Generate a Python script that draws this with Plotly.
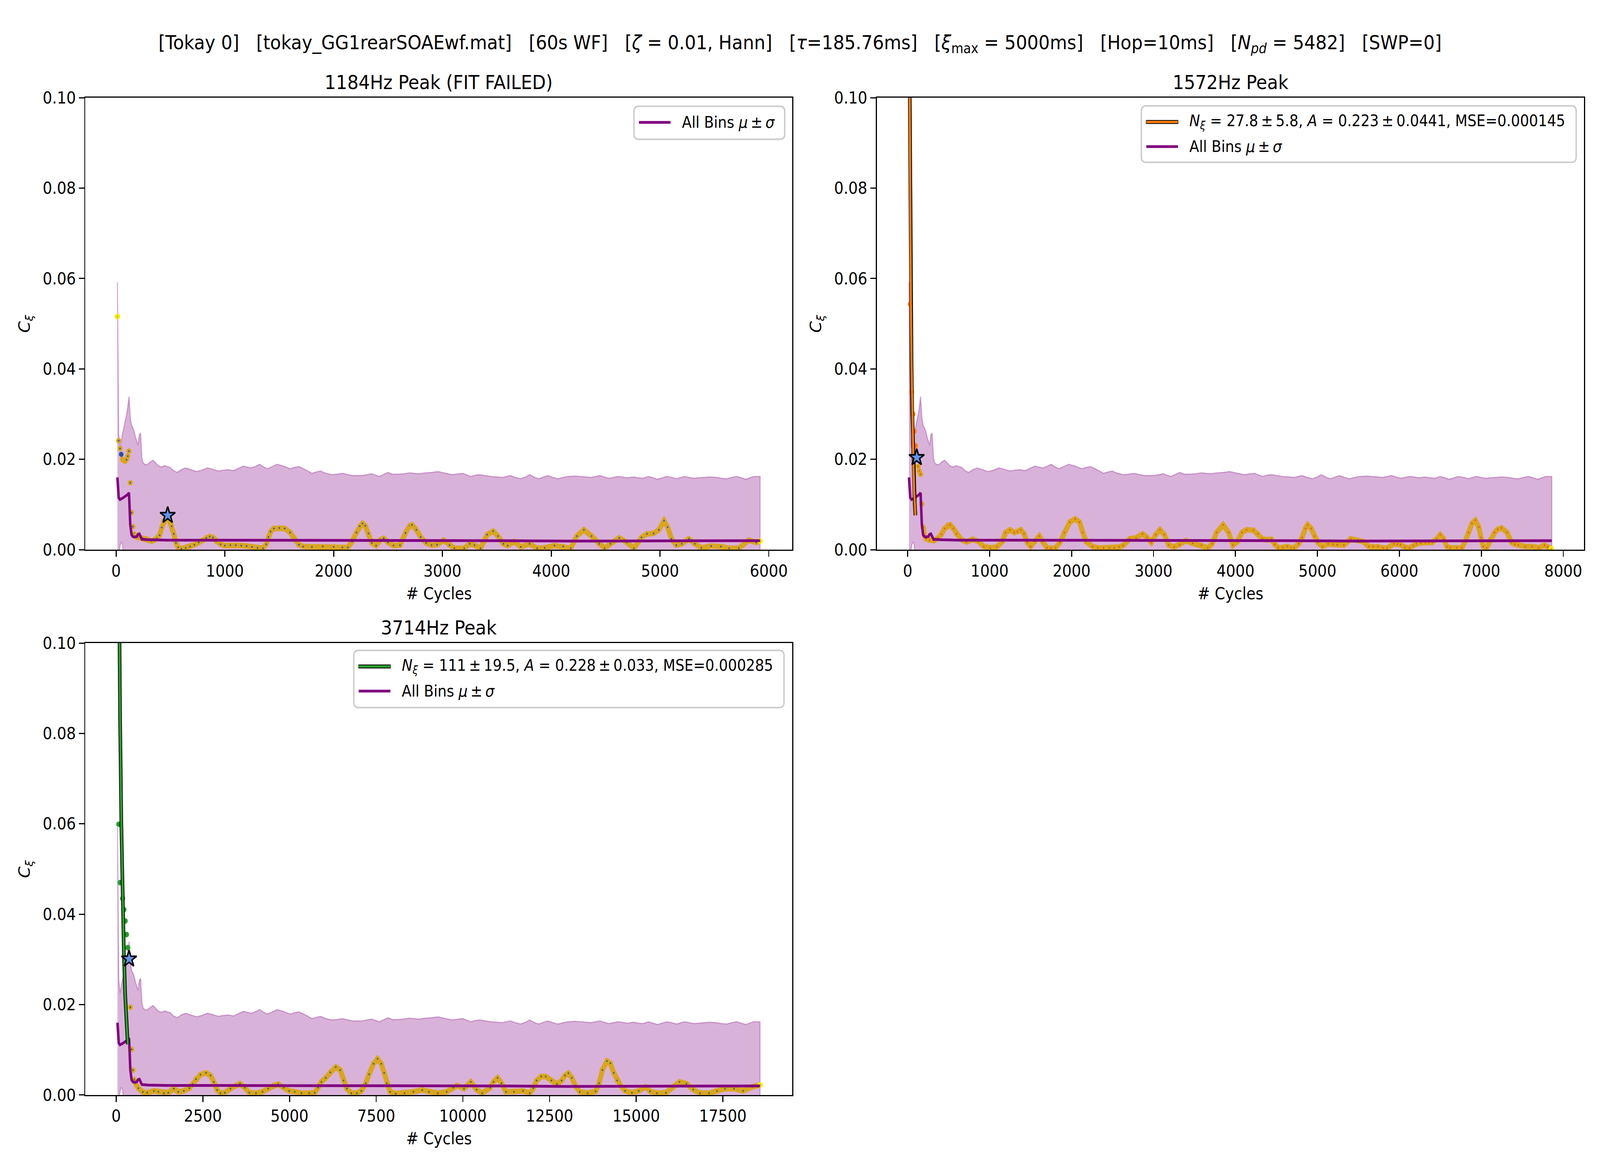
import plotly.graph_objects as go

# ---------------- metadata ----------------
PEAK_FREQS_HZ = [1184, 1572, 3714]
PANEL_TITLES = ["1184Hz Peak (FIT FAILED)", "1572Hz Peak", "3714Hz Peak"]
SUPTITLE = ("[Tokay 0]\u00a0\u00a0\u00a0[tokay_GG1rearSOAEwf.mat]\u00a0\u00a0\u00a0[60s WF]\u00a0\u00a0\u00a0"
            "[<i>ζ</i> = 0.01, Hann]\u00a0\u00a0\u00a0[<i>τ</i>=185.76ms]\u00a0\u00a0\u00a0"
            "[<i>ξ</i><sub>max</sub> = 5000ms]\u00a0\u00a0\u00a0[Hop=10ms]\u00a0\u00a0\u00a0"
            "[<i>N</i><sub><i>pd</i></sub> = 5482]\u00a0\u00a0\u00a0[SWP=0]")
FIT_LABELS = [None,
              "<i>N</i><sub><i>ξ</i></sub> = 27.8\u2009±\u20095.8, <i>A</i> = 0.223\u2009±\u20090.0441, MSE=0.000145",
              "<i>N</i><sub><i>ξ</i></sub> = 111\u2009±\u200919.5, <i>A</i> = 0.228\u2009±\u20090.033, MSE=0.000285"]
ALLBINS_LABEL = "All Bins <i>μ</i>\u2009±\u2009<i>σ</i>"
X_TICKS = [[0, 1000, 2000, 3000, 4000, 5000, 6000],
           [0, 1000, 2000, 3000, 4000, 5000, 6000, 7000, 8000],
           [0, 2500, 5000, 7500, 10000, 12500, 15000, 17500]]
Y_TICKS = [0.0, 0.02, 0.04, 0.06, 0.08, 0.10]
Y_TICKTEXT = ["0.00", "0.02", "0.04", "0.06", "0.08", "0.10"]

# ---------------- all-bins mean ± sigma (vs xi in ms) ----------------
allbins_hi_xi = [10, 20, 30, 40, 50, 60, 70, 80, 90, 100, 110, 120, 130, 140, 150, 160, 170, 180, 190, 200,
                 210, 225, 245, 265, 287, 310, 330, 354, 375, 397, 420, 445, 473, 505, 540, 580, 625, 665,
                 709, 750, 794, 830, 870, 912, 950, 988, 1047, 1080, 1115, 1145, 1174, 1210, 1250, 1300,
                 1351, 1385, 1419, 1470, 1520, 1555, 1587, 1630, 1672, 1715, 1756, 1800, 1841, 1908, 1950,
                 1984, 2043, 2075, 2111, 2145, 2179, 2230, 2280, 2347, 2398, 2450, 2499, 2560, 2613, 2660,
                 2692, 2753, 2790, 2824, 2870, 2912, 2960, 2999, 3061, 3100, 3140, 3180, 3211, 3250, 3281,
                 3320, 3351, 3390, 3430, 3470, 3509, 3560, 3615, 3650, 3685, 3720, 3756, 3790, 3826, 3860,
                 3896, 3930, 3967, 4020, 4055, 4090, 4134, 4170, 4204, 4240, 4274, 4315, 4354, 4385, 4415,
                 4450, 4486, 4520, 4556, 4610, 4662, 4700, 4740, 4780, 4820, 4855, 4890, 4920, 4952, 5000]
allbins_hi = [0.0592, 0.0255, 0.0226, 0.0240, 0.0257, 0.0270, 0.0282, 0.0297, 0.0315, 0.0339, 0.0292,
              0.0275, 0.0270, 0.0262, 0.0250, 0.0240, 0.0231, 0.0254, 0.0258, 0.0203, 0.0192, 0.0188,
              0.0189, 0.0194, 0.0198, 0.0191, 0.0185, 0.0183, 0.0186, 0.0184, 0.0182, 0.0175, 0.0171,
              0.0177, 0.0181, 0.0177, 0.0173, 0.0176, 0.0181, 0.0178, 0.0174, 0.0176, 0.0177, 0.0175,
              0.0180, 0.0185, 0.0181, 0.0184, 0.0189, 0.0183, 0.0179, 0.0184, 0.0189, 0.0185, 0.0179,
              0.0182, 0.0184, 0.0177, 0.0169, 0.0172, 0.0174, 0.0169, 0.0166, 0.0167, 0.0169, 0.0166,
              0.0164, 0.0164, 0.0166, 0.0168, 0.0162, 0.0166, 0.0171, 0.0167, 0.0167, 0.0168, 0.0170,
              0.0168, 0.0170, 0.0171, 0.0173, 0.0169, 0.0166, 0.0168, 0.0169, 0.0162, 0.0165, 0.0166,
              0.0164, 0.0162, 0.0161, 0.0160, 0.0164, 0.0160, 0.0157, 0.0161, 0.0166, 0.0160, 0.0157,
              0.0161, 0.0164, 0.0160, 0.0157, 0.0160, 0.0162, 0.0163, 0.0162, 0.0161, 0.0160, 0.0162,
              0.0164, 0.0161, 0.0158, 0.0160, 0.0162, 0.0161, 0.0159, 0.0161, 0.0159, 0.0158, 0.0162,
              0.0159, 0.0156, 0.0159, 0.0162, 0.0160, 0.0157, 0.0160, 0.0162, 0.0160, 0.0158, 0.0159,
              0.0160, 0.0161, 0.0160, 0.0158, 0.0157, 0.0160, 0.0162, 0.0159, 0.0156, 0.0159, 0.0162,
              0.0162]
allbins_lo_xi = [10, 20, 30, 40, 50, 60, 70, 100, 150, 200, 500, 1000, 2000, 3000, 4000, 5000]
allbins_lo = [-0.027, -0.002, 0.0008, 0.0017, 0.0012, -0.003, -0.006, -0.009, -0.017, -0.014,
              -0.013, -0.013, -0.013, -0.012, -0.012, -0.012]
allbins_mean_xi = [10, 20, 30, 40, 50, 60, 70, 80, 90, 100, 110, 120, 130, 140, 150, 160, 170, 180, 190,
                   200, 250, 400, 800, 1200, 1600, 2000, 2500, 3000, 3500, 4000, 4500, 5000]
allbins_mean = [0.0160, 0.0115, 0.0111, 0.0112, 0.0114, 0.0116, 0.0118, 0.0120, 0.0122, 0.0126, 0.0055,
                0.0033, 0.0029, 0.0028, 0.0028, 0.0029, 0.0034, 0.0035, 0.0029, 0.0023, 0.0022, 0.0021,
                0.0021, 0.0021, 0.0020, 0.0020, 0.0020, 0.0020, 0.0019, 0.0019, 0.0019, 0.0020]

# ---------------- panel 1: 1184 Hz ----------------
p1_cycles = [12, 24, 36, 59, 71, 83, 95, 107, 118, 130, 142, 154, 166, 178, 190, 205, 225, 250, 275, 300,
             325, 350, 375, 400, 420, 440, 460, 474, 490, 510, 530, 550, 570, 600, 640, 680, 720, 760, 800,
             830, 860, 890, 920, 960, 1000, 1050, 1100, 1150, 1200, 1250, 1300, 1350, 1380, 1400, 1420,
             1450, 1500, 1550, 1600, 1640, 1680, 1720, 1800, 1900, 2000, 2080, 2130, 2170, 2210, 2240,
             2265, 2290, 2320, 2350, 2390, 2430, 2460, 2500, 2550, 2610, 2660, 2700, 2720, 2760, 2800,
             2850, 2900, 2950, 3010, 3065, 3110, 3200, 3250, 3295, 3350, 3410, 3466, 3510, 3560, 3600,
             3660, 3720, 3800, 3870, 3940, 4030, 4110, 4180, 4235, 4300, 4370, 4440, 4490, 4545, 4625,
             4695, 4760, 4830, 4880, 4940, 4990, 5037, 5070, 5105, 5150, 5200, 5265, 5320, 5380, 5470,
             5560, 5635, 5725, 5815, 5885, 5920]
p1_coh = [0.0516, 0.0241, 0.0224, 0.0200, 0.0197, 0.0196, 0.0199, 0.0207, 0.0218, 0.0148, 0.0082, 0.0051,
          0.0035, 0.0030, 0.0028, 0.0027, 0.0026, 0.0025, 0.0024, 0.0022, 0.0019, 0.0021, 0.0025, 0.0032,
          0.0049, 0.0064, 0.0072, 0.0076, 0.0066, 0.0052, 0.0035, 0.0015, 0.0005, 0.0002, 0.0004, 0.0007,
          0.0011, 0.0016, 0.0021, 0.0026, 0.0029, 0.0027, 0.0019, 0.0012, 0.0009, 0.0010, 0.0010, 0.0009,
          0.0008, 0.0006, 0.0004, 0.0003, 0.0012, 0.0028, 0.0040, 0.0047, 0.0048, 0.0047, 0.0038, 0.0022,
          0.0011, 0.0007, 0.0006, 0.0007, 0.0006, 0.0005, 0.0005, 0.0018, 0.0038, 0.0052, 0.0058, 0.0053,
          0.0036, 0.0015, 0.0009, 0.0022, 0.0025, 0.0016, 0.0009, 0.0010, 0.0037, 0.0053, 0.0055, 0.0044,
          0.0028, 0.0015, 0.0010, 0.0011, 0.0021, 0.0010, 0.0003, 0.0003, 0.0013, 0.0010, 0.0003, 0.0033,
          0.0041, 0.0030, 0.0013, 0.0009, 0.0018, 0.0006, 0.0013, 0.0003, 0.0004, 0.0009, 0.0007, 0.0003,
          0.0030, 0.0044, 0.0030, 0.0013, 0.0003, 0.0013, 0.0026, 0.0016, 0.0003, 0.0027, 0.0035, 0.0036,
          0.0044, 0.0064, 0.0050, 0.0024, 0.0010, 0.0013, 0.0024, 0.0013, 0.0004, 0.0008, 0.0007, 0.0003,
          0.0003, 0.0021, 0.0016, 0.0019]
p1_fitpts_cycles = [47]
p1_fitpts_coh = [0.0211]
p1_fit_cycles = []
p1_fit_coh = []
p1_star = [474, 0.0076]

# ---------------- panel 2: 1572 Hz ----------------
p2_cycles = [126, 141, 157, 173, 189, 204, 226, 265, 319, 372, 411, 451, 491, 518, 557, 597, 650, 717,
             796, 863, 929, 1009, 1088, 1155, 1195, 1248, 1301, 1340, 1380, 1420, 1460, 1500, 1553, 1606,
             1646, 1699, 1750, 1805, 1858, 1911, 1978, 2044, 2097, 2137, 2177, 2256, 2320, 2389, 2460,
             2522, 2580, 2628, 2708, 2787, 2867, 2920, 2973, 3026, 3079, 3132, 3186, 3252, 3318, 3398,
             3478, 3584, 3663, 3716, 3770, 3849, 3916, 3969, 4024, 4079, 4135, 4218, 4273, 4328, 4380,
             4439, 4480, 4522, 4580, 4632, 4680, 4715, 4771, 4812, 4853, 4881, 4923, 4964, 5006, 5061,
             5130, 5190, 5241, 5323, 5370, 5406, 5450, 5489, 5558, 5628, 5680, 5738, 5800, 5849, 5932,
             5975, 6015, 6070, 6125, 6170, 6208, 6260, 6319, 6360, 6402, 6457, 6498, 6540, 6581, 6620,
             6700, 6761, 6803, 6844, 6886, 6927, 6969, 6996, 7024, 7065, 7107, 7162, 7200, 7245, 7314,
             7369, 7410, 7452, 7535, 7618, 7701, 7770, 7810, 7853]
p2_coh = [0.0184, 0.0174, 0.0167, 0.0101, 0.0050, 0.0031, 0.0024, 0.0021, 0.0020, 0.0026, 0.0034, 0.0047,
          0.0054, 0.0055, 0.0047, 0.0035, 0.0023, 0.0017, 0.0023, 0.0018, 0.0007, 0.0004, 0.0006, 0.0018,
          0.0038, 0.0044, 0.0038, 0.0040, 0.0044, 0.0035, 0.0016, 0.0007, 0.0018, 0.0030, 0.0018, 0.0004,
          0.0003, 0.0004, 0.0016, 0.0038, 0.0061, 0.0068, 0.0061, 0.0038, 0.0018, 0.0007, 0.0004, 0.0004,
          0.0004, 0.0004, 0.0006, 0.0009, 0.0024, 0.0026, 0.0035, 0.0027, 0.0016, 0.0033, 0.0044, 0.0033,
          0.0010, 0.0006, 0.0011, 0.0020, 0.0014, 0.0010, 0.0004, 0.0013, 0.0038, 0.0055, 0.0038, 0.0010,
          0.0018, 0.0038, 0.0044, 0.0043, 0.0035, 0.0024, 0.0022, 0.0023, 0.0012, 0.0004, 0.0005, 0.0007,
          0.0004, 0.0004, 0.0013, 0.0027, 0.0047, 0.0055, 0.0047, 0.0030, 0.0016, 0.0007, 0.0013, 0.0012,
          0.0011, 0.0010, 0.0018, 0.0024, 0.0022, 0.0021, 0.0018, 0.0007, 0.0007, 0.0007, 0.0004, 0.0003,
          0.0013, 0.0012, 0.0011, 0.0005, 0.0004, 0.0009, 0.0013, 0.0015, 0.0016, 0.0016, 0.0016, 0.0024,
          0.0033, 0.0024, 0.0007, 0.0004, 0.0004, 0.0004, 0.0018, 0.0038, 0.0058, 0.0065, 0.0050, 0.0027,
          0.0007, 0.0004, 0.0021, 0.0038, 0.0045, 0.0048, 0.0038, 0.0016, 0.0012, 0.0010, 0.0007, 0.0007,
          0.0004, 0.0010, 0.0006, 0.0002]
p2_fitpts_cycles = [31.4, 47.2, 62.9, 78.6, 94.3]
p2_fitpts_coh = [0.0543, 0.0349, 0.0300, 0.0262, 0.0230]
p2_fit_cycles = [15.7, 23.6, 31.4, 39.3, 47.2, 55.0, 62.9, 70.7, 78.6, 86.5, 94.3]
p2_fit_coh = [0.127, 0.096, 0.072, 0.054, 0.041, 0.031, 0.023, 0.018, 0.013, 0.010, 0.0076]
p2_star = [110, 0.0204]

# ---------------- panel 3: 3714 Hz ----------------
p3_cycles = [408, 446, 483, 520, 557, 640, 768, 896, 1088, 1216, 1376, 1504, 1663, 1791, 1951, 2111, 2207,
             2303, 2431, 2591, 2719, 2815, 2911, 3007, 3135, 3295, 3455, 3570, 3711, 3839, 4031, 4223,
             4383, 4543, 4671, 4831, 4990, 5150, 5342, 5566, 5726, 5822, 5918, 6046, 6174, 6334, 6462,
             6558, 6654, 6782, 6942, 7070, 7198, 7294, 7422, 7537, 7646, 7729, 7806, 7902, 8062, 8318,
             8573, 8829, 9021, 9277, 9533, 9725, 9836, 10033, 10229, 10393, 10556, 10785, 10884, 11001,
             11113, 11243, 11473, 11734, 11931, 12029, 12127, 12258, 12389, 12552, 12716, 12847, 12945,
             13043, 13141, 13240, 13370, 13599, 13829, 13927, 14025, 14156, 14254, 14352, 14450, 14548,
             14679, 14876, 15072, 15268, 15399, 15596, 15857, 16054, 16250, 16447, 16643, 16839, 17101,
             17330, 17559, 17821, 18082, 18344, 18573]
p3_coh = [0.0194, 0.0101, 0.0055, 0.0034, 0.0026, 0.0015, 0.00065, 0.0005, 0.0009, 0.0007, 0.0004, 0.0005,
          0.0014, 0.0007, 0.0009, 0.0015, 0.0024, 0.0035, 0.0045, 0.0049, 0.0043, 0.0029, 0.0011, 0.0004,
          0.0005, 0.0014, 0.0021, 0.0025, 0.0016, 0.0005, 0.0004, 0.0007, 0.0014, 0.0021, 0.0024, 0.0016,
          0.0009, 0.0007, 0.0004, 0.0004, 0.0005, 0.0016, 0.0029, 0.0038, 0.0050, 0.0062, 0.0055, 0.0032,
          0.0014, 0.0004, 0.0004, 0.0009, 0.0026, 0.0046, 0.0069, 0.0080, 0.0069, 0.0049, 0.0026, 0.0007,
          0.0003, 0.0004, 0.0007, 0.0011, 0.0007, 0.0004, 0.0007, 0.0016, 0.0021, 0.0014, 0.0029, 0.0012,
          0.0004, 0.0016, 0.0029, 0.0038, 0.0026, 0.0007, 0.0007, 0.0009, 0.0004, 0.0015, 0.0032, 0.0041,
          0.0041, 0.0032, 0.0024, 0.0032, 0.0043, 0.0048, 0.0038, 0.0021, 0.0007, 0.0004, 0.0008, 0.0026,
          0.0055, 0.0075, 0.0070, 0.0049, 0.0032, 0.0021, 0.0009, 0.0005, 0.0009, 0.0018, 0.0008, 0.0004,
          0.0005, 0.0018, 0.0029, 0.0025, 0.0012, 0.0004, 0.0004, 0.0009, 0.0014, 0.0014, 0.0009, 0.0018,
          0.0022]
p3_fitpts_cycles = [74.3, 111.4, 185.7, 222.8, 260.0, 297.1, 334.3]
p3_fitpts_coh = [0.0599, 0.0470, 0.0435, 0.0410, 0.0385, 0.0355, 0.0326]
p3_fit_cycles = [37.1, 74.3, 111.4, 148.6, 185.7, 222.8, 260.0, 297.1, 334.3]
p3_fit_coh = [0.163, 0.117, 0.084, 0.060, 0.043, 0.031, 0.022, 0.016, 0.0112]
p3_star = [371, 0.0301]

# ---------------- styles / layout geometry (px of the 4500x3000 canvas) ----------------
FONT = "DejaVu Sans"
W, H = 4500, 3000
PANEL_BOX = [  # left, right, top, bottom
    (240, 2228, 230, 1406),
    (2466, 4455, 230, 1406),
    (240, 2228, 1649, 2825),
]
LEGEND_BOX = [  # left, right, top, bottom
    (1783, 2207, 252, 338),
    (3210, 4433, 251, 398),
    (995, 2205, 1668, 1817),
]
X_RANGES = [[-283, 6215], [-377, 8253], [-890, 19498]]
FIT_COLORS = [None, "#ff7f0e", "#2ca02c"]
FITPT_FACE = ["#2f4f9f", "#e3502c", "#2a7a3a"]
FITPT_EDGE = ["#2f4f9f", "#ff7f0e", "#2ca02c"]
DOT_COLORS = ["#34559f", "#e4552e", "#2e6a4e"]
RING = "#DAA520"
DENSE_FROM = [166, 189, 557]

panels = [
    (p1_cycles, p1_coh, p1_fitpts_cycles, p1_fitpts_coh, p1_fit_cycles, p1_fit_coh, p1_star),
    (p2_cycles, p2_coh, p2_fitpts_cycles, p2_fitpts_coh, p2_fit_cycles, p2_fit_coh, p2_star),
    (p3_cycles, p3_coh, p3_fitpts_cycles, p3_fitpts_coh, p3_fit_cycles, p3_fit_coh, p3_star),
]


def px(x):
    return x / W


def py(y):
    return 1 - y / H


def rounded_rect_path(x0, x1, y0, y1, r):
    pts = []
    pts.append("M%.6f,%.6f" % (px(x0 + r), py(y0)))
    pts.append("L%.6f,%.6f" % (px(x1 - r), py(y0)))
    pts.append("Q%.6f,%.6f %.6f,%.6f" % (px(x1), py(y0), px(x1), py(y0 + r)))
    pts.append("L%.6f,%.6f" % (px(x1), py(y1 - r)))
    pts.append("Q%.6f,%.6f %.6f,%.6f" % (px(x1), py(y1), px(x1 - r), py(y1)))
    pts.append("L%.6f,%.6f" % (px(x0 + r), py(y1)))
    pts.append("Q%.6f,%.6f %.6f,%.6f" % (px(x0), py(y1), px(x0), py(y1 - r)))
    pts.append("L%.6f,%.6f" % (px(x0), py(y0 + r)))
    pts.append("Q%.6f,%.6f %.6f,%.6f" % (px(x0), py(y0), px(x0 + r), py(y0)))
    return " ".join(pts) + " Z"


fig = go.Figure()
layout = dict(width=W, height=H, autosize=False, margin=dict(l=0, r=0, t=0, b=0),
              paper_bgcolor="white", plot_bgcolor="white", showlegend=False,
              font=dict(family=FONT, size=42, color="black"))
annotations = []
shapes = []

for i, (cx, cy, fx, fy, lx, ly, star) in enumerate(panels):
    f = PEAK_FREQS_HZ[i]
    n = "" if i == 0 else str(i + 1)
    xa, ya = "x" + n, "y" + n
    L, R, T, B = PANEL_BOX[i]

    # band polygon (mu +/- sigma)
    hx = [v * f / 1000.0 for v in allbins_hi_xi]
    lx_ = [v * f / 1000.0 for v in allbins_lo_xi]
    fig.add_trace(go.Scatter(x=hx + lx_[::-1], y=allbins_hi + allbins_lo[::-1], mode="lines",
                             fill="toself", fillcolor="rgba(128,0,128,0.3)",
                             line=dict(color="rgba(128,0,128,0.3)", width=3),
                             xaxis=xa, yaxis=ya, hoverinfo="skip"))
    # dense coherence band
    dx = [x for x in cx if x >= DENSE_FROM[i]]
    dy = [y for x, y in zip(cx, cy) if x >= DENSE_FROM[i]]
    fig.add_trace(go.Scatter(x=dx, y=dy, mode="lines", line=dict(color=RING, width=14),
                             xaxis=xa, yaxis=ya, hoverinfo="skip"))
    fig.add_trace(go.Scatter(x=cx, y=cy, mode="markers",
                             marker=dict(symbol="circle", size=9.5, color=DOT_COLORS[i],
                                         line=dict(color=RING, width=5)),
                             xaxis=xa, yaxis=ya))
    # end points (bright yellow ring)
    ex = [cx[-1]] if i else [cx[0], cx[-1]]
    ey = [cy[-1]] if i else [cy[0], cy[-1]]
    fig.add_trace(go.Scatter(x=ex, y=ey, mode="markers",
                             marker=dict(symbol="circle", size=9.5, color=RING,
                                         line=dict(color="#f7ec00", width=5)),
                             xaxis=xa, yaxis=ya))
    # fitted points
    fig.add_trace(go.Scatter(x=fx, y=fy, mode="markers",
                             marker=dict(symbol="circle", size=9.5 if i else 13, color=FITPT_FACE[i],
                                         line=dict(color=FITPT_EDGE[i], width=5 if i else 0)),
                             xaxis=xa, yaxis=ya))
    # mean line
    mx = [v * f / 1000.0 for v in allbins_mean_xi]
    fig.add_trace(go.Scatter(x=mx, y=allbins_mean, mode="lines", line=dict(color="purple", width=7),
                             name="All Bins", xaxis=xa, yaxis=ya))
    # fit curve (coloured line with black outline)
    if lx:
        fig.add_trace(go.Scatter(x=lx, y=ly, mode="lines", line=dict(color="black", width=10),
                                 xaxis=xa, yaxis=ya, hoverinfo="skip"))
        fig.add_trace(go.Scatter(x=lx, y=ly, mode="lines", line=dict(color=FIT_COLORS[i], width=6),
                                 name="fit", xaxis=xa, yaxis=ya))
    # star
    fig.add_trace(go.Scatter(x=[star[0]], y=[star[1]], mode="markers",
                             marker=dict(symbol="star", size=32, color="#6495ED",
                                         line=dict(color="black", width=4)),
                             xaxis=xa, yaxis=ya))

    axis_common = dict(showline=True, linecolor="black", linewidth=3.3, mirror=True,
                       ticks="outside", ticklen=15, tickwidth=3.3, tickcolor="black",
                       showgrid=False, zeroline=False, tickfont=dict(family=FONT, size=42))
    layout["xaxis" + n] = dict(domain=[L / W, R / W], range=X_RANGES[i], tickvals=X_TICKS[i],
                               ticktext=[str(t) for t in X_TICKS[i]], anchor=ya, **axis_common)
    layout["yaxis" + n] = dict(domain=[1 - B / H, 1 - T / H], range=[0, 0.1], tickvals=Y_TICKS,
                               ticktext=Y_TICKTEXT, anchor=xa, **axis_common)

    # ---- legend box drawn like matplotlib's (rounded frame, long line samples) ----
    bl, br, bt, bb = LEGEND_BOX[i]
    shapes.append(dict(type="path", xref="paper", yref="paper", layer="above",
                       path=rounded_rect_path(bl, br, bt, bb, 14),
                       fillcolor="rgba(255,255,255,0.8)", line=dict(color="#cccccc", width=4)))
    rows = []
    if FIT_LABELS[i]:
        rows.append((FIT_LABELS[i], FIT_COLORS[i], True))
    rows.append((ALLBINS_LABEL, "purple", False))
    for k, (label, col, outlined) in enumerate(rows):
        ry = bt + 42 + 64 * k
        sx0, sx1 = bl + 14, bl + 103
        if outlined:
            shapes.append(dict(type="line", xref="paper", yref="paper", layer="above",
                               x0=px(sx0 - 1), x1=px(sx1 + 1), y0=py(ry), y1=py(ry),
                               line=dict(color="black", width=10)))
            shapes.append(dict(type="line", xref="paper", yref="paper", layer="above",
                               x0=px(sx0), x1=px(sx1), y0=py(ry), y1=py(ry),
                               line=dict(color=col, width=6)))
        else:
            shapes.append(dict(type="line", xref="paper", yref="paper", layer="above",
                               x0=px(sx0), x1=px(sx1), y0=py(ry), y1=py(ry),
                               line=dict(color=col, width=7)))
        annotations.append(dict(text=label, x=px(bl + 133), y=py(ry), xref="paper", yref="paper",
                                xanchor="left", yanchor="middle", showarrow=False,
                                font=dict(family=FONT, size=40)))

    cxp = (L + R) / 2 / W
    annotations.append(dict(text=PANEL_TITLES[i], x=cxp, y=py(T - 40), xref="paper", yref="paper",
                            xanchor="center", yanchor="middle", showarrow=False,
                            font=dict(family=FONT, size=50)))
    annotations.append(dict(text="# Cycles", x=cxp, y=py(B + 114), xref="paper", yref="paper",
                            xanchor="center", yanchor="middle", showarrow=False,
                            font=dict(family=FONT, size=42)))
    annotations.append(dict(text="<i>C</i><sub><i>ξ</i></sub>", x=px(L - 168), y=py((T + B) / 2),
                            xref="paper", yref="paper", xanchor="center", yanchor="middle",
                            textangle=-90, showarrow=False, font=dict(family=FONT, size=42)))

annotations.append(dict(text=SUPTITLE, x=0.5, y=py(90), xref="paper", yref="paper",
                        xanchor="center", yanchor="middle", showarrow=False,
                        font=dict(family=FONT, size=50)))
layout["annotations"] = annotations
layout["shapes"] = shapes
fig.update_layout(**layout)

# stretch the fixed-size figure so that it exactly fills the browser viewport
FIT_JS = ("(function(){var d=document.documentElement,b=document.body;"
          "d.style.margin='0';b.style.margin='0';b.style.padding='0';"
          "d.style.overflow='hidden';b.style.overflow='hidden';"
          "var gd=document.getElementById('{plot_id}');"
          "var zx=window.innerWidth/%d, zy=window.innerHeight/%d;"
          "if(gd && zx>0 && zy>0 && (Math.abs(zx-1)>0.002 || Math.abs(zy-1)>0.002)){"
          "gd.style.transformOrigin='0 0';"
          "gd.style.transform='scale('+zx+','+zy+')';}})();" % (W, H))
fig.write_html("out.html", post_script=FIT_JS, config={"displayModeBar": False})
